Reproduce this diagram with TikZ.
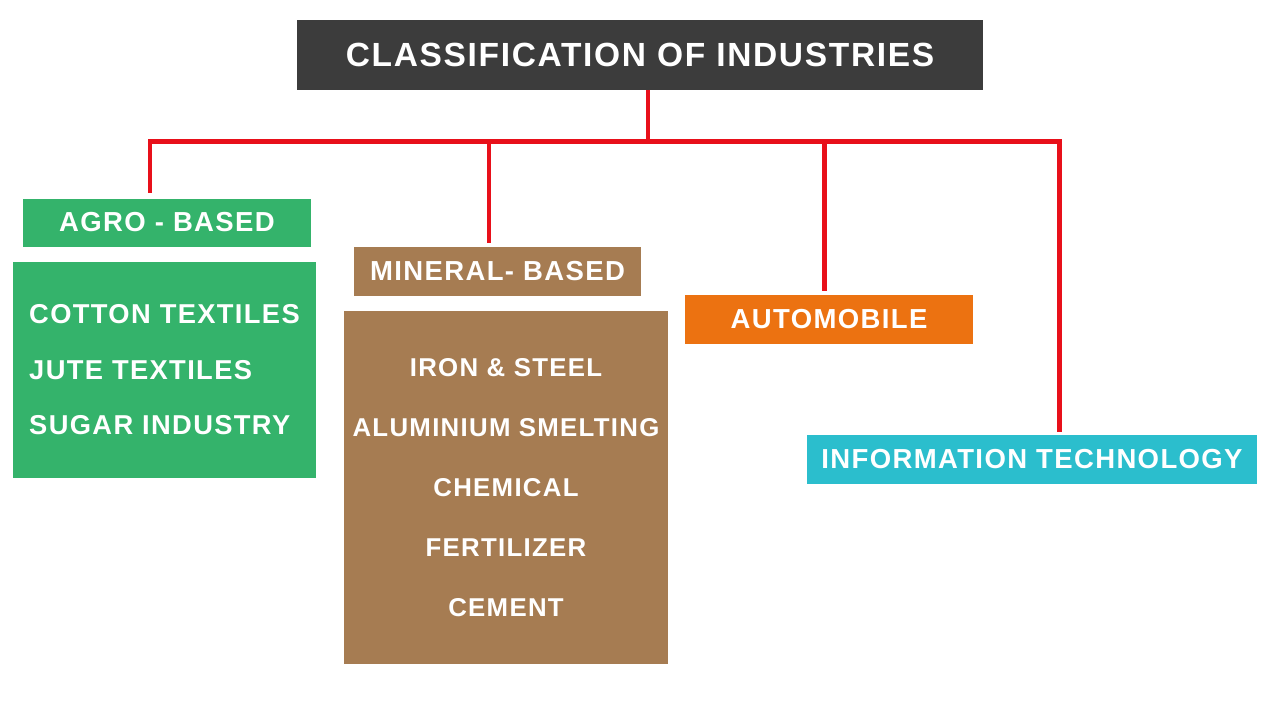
\documentclass[tikz,border=0pt]{standalone}
\usepackage{fontspec}
\usepackage{tikz}
\newfontfamily\boxfont{Liberation Sans}[LetterSpace=5]
\definecolor{titlecolor}{HTML}{3C3C3C}
\definecolor{agrocolor}{HTML}{34B36B}
\definecolor{mineralcolor}{HTML}{A67C52}
\definecolor{autocolor}{HTML}{EC7211}
\definecolor{itcolor}{HTML}{2BBECD}
\definecolor{linkcolor}{HTML}{E8101A}
\tikzset{
    catbox/.style={rectangle, inner sep=0pt, text=white, font=\boxfont\bfseries\fontsize{27.5}{55.5}\selectfont},
    link/.style={draw=linkcolor, line width=4.5pt}
}

\begin{document}
\begin{tikzpicture}[x=1pt, y=-1pt]
    \useasboundingbox (0,0) rectangle (1280,720);
    \coordinate (vertexTitle) at (640,54.5);
    \coordinate (vertexAgro) at (167,222.5);
    \coordinate (vertexAgroList) at (164.5,370);
    \coordinate (vertexMineral) at (497.5,271.5);
    \coordinate (vertexMineralList) at (506,487.5);
    \coordinate (vertexAuto) at (829,319.5);
    \coordinate (vertexIT) at (1032,459.5);
    %
    \node[catbox, fill=titlecolor, minimum width=686pt, minimum height=70pt, font=\boxfont\bfseries\fontsize{33.5}{38}\selectfont] at (vertexTitle) (nodeTitle) {CLASSIFICATION OF INDUSTRIES};
    \node[catbox, fill=agrocolor, minimum width=288pt, minimum height=48pt] at (vertexAgro) (nodeAgro) {AGRO - BASED};
    \node[catbox, fill=agrocolor, minimum width=303pt, minimum height=216pt, align=left, font=\boxfont\bfseries\fontsize{27.3}{55.5}\selectfont] at (vertexAgroList) (nodeAgroList) {COTTON TEXTILES\\JUTE TEXTILES\\SUGAR INDUSTRY};
    \node[catbox, fill=mineralcolor, minimum width=287pt, minimum height=49pt] at (vertexMineral) (nodeMineral) {MINERAL- BASED};
    \node[catbox, fill=mineralcolor, minimum width=324pt, minimum height=353pt, align=center, font=\boxfont\bfseries\fontsize{25.8}{60}\selectfont] at (vertexMineralList) (nodeMineralList) {IRON \& STEEL\\ALUMINIUM SMELTING\\CHEMICAL\\FERTILIZER\\CEMENT};
    \node[catbox, fill=autocolor, minimum width=288pt, minimum height=49pt] at (vertexAuto) (nodeAuto) {AUTOMOBILE};
    \node[catbox, fill=itcolor, minimum width=450pt, minimum height=49pt] at (vertexIT) (nodeIT) {INFORMATION TECHNOLOGY};
    %
    \coordinate (hub) at (648,141.5);
    \coordinate (dropAgro) at (150,192.7);
    \coordinate (dropMineral) at (489,242.7);
    \coordinate (dropAuto) at (824.5,290.7);
    \coordinate (dropIT) at (1059.5,431.7);
    %
    \draw[link] (nodeTitle.south -| hub) -- (hub);
    \draw[link] (dropAgro) |- (hub) -| (dropIT);
    \draw[link] (dropMineral) -- (dropMineral |- hub);
    \draw[link] (dropAuto) -- (dropAuto |- hub);
\end{tikzpicture}
\end{document}
